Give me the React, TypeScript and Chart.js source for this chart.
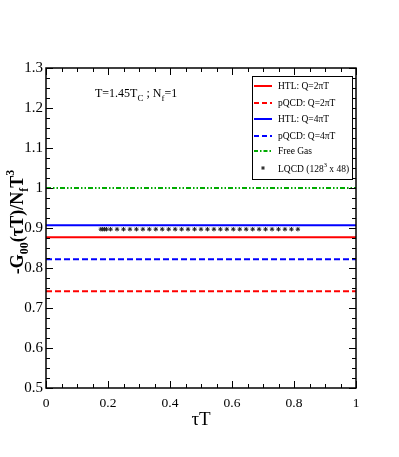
import React, { useEffect, useRef } from "react";
import { Chart, registerables } from "chart.js";

Chart.register(...registerables);

const htl2 = 0.877;
const pqcd2 = 0.742;
const htl4 = 0.907;
const pqcd4 = 0.822;
const freeGas = 1.0;
const lqcdTau = [
  0.177, 0.183, 0.189, 0.195, 0.2083, 0.2292, 0.25, 0.2708, 0.2917, 0.3125, 0.3333, 0.3542,
  0.375, 0.3958, 0.4167, 0.4375, 0.4583, 0.4792, 0.5, 0.5208, 0.5417, 0.5625, 0.5833,
  0.6042, 0.625, 0.6458, 0.6667, 0.6875, 0.7083, 0.7292, 0.75, 0.7708, 0.7917, 0.8125,
];
const lqcdVal = [
  0.897, 0.897, 0.897, 0.897, 0.897, 0.897, 0.897, 0.897, 0.897, 0.897, 0.897, 0.897,
  0.897, 0.897, 0.897, 0.897, 0.897, 0.897, 0.897, 0.897, 0.897, 0.897, 0.897,
  0.897, 0.897, 0.897, 0.897, 0.897, 0.897, 0.897, 0.897, 0.897, 0.897, 0.897,
];
const xRange = [0, 1];
const yRange = [0.5, 1.3];

const SERIF = "'Liberation Serif', 'DejaVu Serif', serif";

const hline = (v: number) => xRange.map((x) => ({ x, y: v }));

const decor = {
  id: "decor",
  afterDraw(chart: any) {
    const ctx = chart.ctx as CanvasRenderingContext2D;
    const { left, right, top, bottom } = chart.chartArea;
    const xs = chart.scales.x;
    const ys = chart.scales.y;
    ctx.save();
    ctx.strokeStyle = "#000";
    ctx.lineWidth = 1.5;
    ctx.strokeRect(left, top, right - left, bottom - top);
    ctx.lineWidth = 1;
    for (let i = 0; i <= 20; i++) {
      const v = i * 0.05;
      const px = Math.round(xs.getPixelForValue(v)) + 0.5;
      const len = i % 4 === 0 ? 7 : 4;
      ctx.beginPath();
      ctx.moveTo(px, bottom);
      ctx.lineTo(px, bottom - len);
      ctx.moveTo(px, top);
      ctx.lineTo(px, top + len);
      ctx.stroke();
    }
    for (let i = 0; i <= 32; i++) {
      const v = 0.5 + i * 0.025;
      const py = Math.round(ys.getPixelForValue(v)) + 0.5;
      const len = i % 4 === 0 ? 7 : 4;
      ctx.beginPath();
      ctx.moveTo(left, py);
      ctx.lineTo(left + len, py);
      ctx.moveTo(right, py);
      ctx.lineTo(right - len, py);
      ctx.stroke();
    }

    // annotation
    ctx.fillStyle = "#000";
    ctx.textBaseline = "alphabetic";
    let x = 95;
    const by = 97;
    const part = (t: string, size: number, dy: number) => {
      ctx.font = `${size}px ${SERIF}`;
      ctx.fillText(t, x, by + dy);
      x += ctx.measureText(t).width;
    };
    ctx.textAlign = "left";
    part("T=1.45T", 12, 0);
    part("C", 9, 4);
    part(" ; N", 12, 0);
    part("f", 9, 4);
    part("=1", 12, 0);

    // legend
    const lx = 252.5, ly = 76.5, lw = 100, lh = 103;
    ctx.fillStyle = "#fff";
    ctx.fillRect(lx, ly, lw, lh);
    ctx.strokeStyle = "#000";
    ctx.lineWidth = 1;
    ctx.strokeRect(lx, ly, lw, lh);
    const items = [
      { t: "HTL: Q=2πT", c: "#ff0000", d: [] as number[] },
      { t: "pQCD: Q=2πT", c: "#ff0000", d: [5, 3] },
      { t: "HTL: Q=4πT", c: "#0000ff", d: [] },
      { t: "pQCD: Q=4πT", c: "#0000ff", d: [5, 3] },
      { t: "Free Gas", c: "#00aa00", d: [4, 2, 1.5, 2] },
    ];
    const rows = [86, 103, 119, 136, 151, 168];
    items.forEach((it, i) => {
      ctx.strokeStyle = it.c;
      ctx.lineWidth = 2;
      ctx.setLineDash(it.d);
      ctx.beginPath();
      ctx.moveTo(254, rows[i]);
      ctx.lineTo(272, rows[i]);
      ctx.stroke();
      ctx.setLineDash([]);
      ctx.fillStyle = "#000";
      ctx.font = `9.5px ${SERIF}`;
      ctx.textBaseline = "middle";
      ctx.fillText(it.t, 278, rows[i]);
    });
    ctx.strokeStyle = "#222";
    ctx.lineWidth = 1;
    const sx = 263, sy = rows[5];
    for (let k = 0; k < 3; k++) {
      const a = (k * Math.PI) / 3 + Math.PI / 2;
      ctx.beginPath();
      ctx.moveTo(sx - 2 * Math.cos(a), sy - 2 * Math.sin(a));
      ctx.lineTo(sx + 2 * Math.cos(a), sy + 2 * Math.sin(a));
      ctx.stroke();
    }
    x = 278;
    const ry = rows[5] + 4;
    ctx.textBaseline = "alphabetic";
    ctx.fillStyle = "#000";
    const p2 = (t: string, size: number, dy: number) => {
      ctx.font = `${size}px ${SERIF}`;
      ctx.fillText(t, x, ry + dy);
      x += ctx.measureText(t).width;
    };
    p2("LQCD (128", 9.5, 0);
    p2("3", 6.5, -5);
    p2(" x 48)", 9.5, 0);

    // x title
    ctx.font = `19px ${SERIF}`;
    ctx.textAlign = "center";
    ctx.textBaseline = "alphabetic";
    ctx.fillText("τT", (left + right) / 2, 425);

    // y title
    ctx.save();
    ctx.translate(23, 222);
    ctx.rotate(-Math.PI / 2);
    ctx.textAlign = "left";
    const segs = [
      { t: "-G", s: 18, dy: 0 },
      { t: "00", s: 12, dy: 5 },
      { t: "(τT)/N", s: 18, dy: 0 },
      { t: "f", s: 12, dy: 5 },
      { t: "T", s: 18, dy: 0 },
      { t: "3", s: 12, dy: -9 },
    ];
    let total = 0;
    segs.forEach((s) => {
      ctx.font = `bold ${s.s}px ${SERIF}`;
      total += ctx.measureText(s.t).width;
    });
    let cx = -total / 2;
    segs.forEach((s) => {
      ctx.font = `bold ${s.s}px ${SERIF}`;
      ctx.fillText(s.t, cx, s.dy);
      cx += ctx.measureText(s.t).width;
    });
    ctx.restore();
    ctx.restore();
  },
};

export default function App() {
  const ref = useRef<HTMLCanvasElement>(null);
  useEffect(() => {
    if (!ref.current) return;
    const chart = new Chart(ref.current, {
      type: "scatter",
      data: {
        datasets: [
          { label: "HTL: Q=2πT", data: hline(htl2), showLine: true, borderColor: "#ff0000", borderWidth: 2, pointRadius: 0 },
          { label: "pQCD: Q=2πT", data: hline(pqcd2), showLine: true, borderColor: "#ff0000", borderWidth: 2, borderDash: [6, 3], pointRadius: 0 },
          { label: "HTL: Q=4πT", data: hline(htl4), showLine: true, borderColor: "#0000ff", borderWidth: 2, pointRadius: 0 },
          { label: "pQCD: Q=4πT", data: hline(pqcd4), showLine: true, borderColor: "#0000ff", borderWidth: 2, borderDash: [6, 3], pointRadius: 0 },
          { label: "Free Gas", data: hline(freeGas), showLine: true, borderColor: "#00aa00", borderWidth: 2, borderDash: [5, 2, 1.5, 2, 1.5, 2], pointRadius: 0 },
          {
            label: "LQCD (128^3 x 48)",
            data: lqcdTau.map((x, i) => ({ x, y: lqcdVal[i] })),
            showLine: false,
            pointStyle: "star",
            pointRadius: 2.2,
            borderColor: "#222",
            backgroundColor: "#222",
            borderWidth: 1,
          },
        ],
      },
      options: {
        animation: false,
        responsive: false,
        devicePixelRatio: 1,
        layout: { padding: { top: 68, right: 43, left: 0, bottom: 0 } },
        plugins: { legend: { display: false }, tooltip: { enabled: false } },
        scales: {
          x: {
            type: "linear",
            min: xRange[0],
            max: xRange[1],
            grid: { display: false, drawTicks: false },
            border: { display: false },
            ticks: {
              stepSize: 0.2,
              color: "#000",
              font: { family: SERIF, size: 13.5 },
              padding: 7,
              maxRotation: 0,
              callback: (v: any) => String(Number(Number(v).toFixed(1))),
            },
            afterFit: (s: any) => { s.height = 69; },
          },
          y: {
            type: "linear",
            min: yRange[0],
            max: yRange[1],
            grid: { display: false, drawTicks: false },
            border: { display: false },
            ticks: {
              stepSize: 0.1,
              color: "#000",
              font: { family: SERIF, size: 15 },
              padding: 3,
              callback: (v: any) => String(Number(Number(v).toFixed(1))),
            },
            afterFit: (s: any) => { s.width = 46; },
          },
        },
      },
      plugins: [decor],
    });
    return () => chart.destroy();
  }, []);
  return (
    <div style={{ position: "fixed", left: 0, top: 0, width: 399, height: 457, background: "#fff" }}>
      <canvas ref={ref} width={399} height={457} style={{ width: 399, height: 457 }} />
    </div>
  );
}
